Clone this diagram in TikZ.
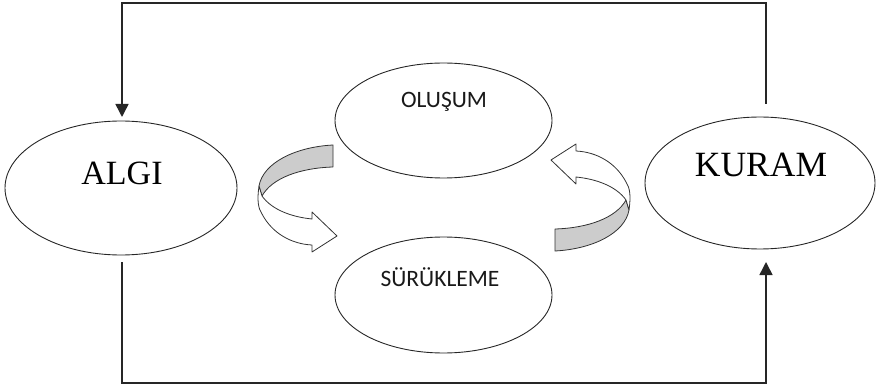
\documentclass[tikz,border=0pt]{standalone}
\usepackage{fontspec}
\setmainfont{Liberation Serif}
\newfontfamily\calfont{Carlito}
\usetikzlibrary{shapes.geometric,arrows.meta}
\begin{document}
\begin{tikzpicture}[x=1pt,y=-1pt,
  oval/.style={draw=black!85,line width=0.9pt,ellipse,inner sep=0pt},
  bigtext/.style={font=\fontsize{34}{34}\selectfont,inner sep=0pt},
  smalltext/.style={font=\calfont\fontsize{23.5}{24}\selectfont,inner sep=0pt,text=black!90},
  conn/.style={draw=black!85,line width=1.5pt},
  tip/.style={-{Triangle[length=13pt,width=13pt]}},
  ribbon/.style={draw=black!80,line width=0.8pt,line join=round}]
\useasboundingbox (0,0) rectangle (877,387);
% ellipses
\node[oval,minimum width=232pt,minimum height=134pt] (algi) at (121,188) {};
\node[oval,minimum width=230pt,minimum height=132pt] (kuram) at (760,183) {};
\node[oval,minimum width=217pt,minimum height=115pt] (olusum) at (443.5,120.5) {};
\node[oval,minimum width=217pt,minimum height=116pt] (surukleme) at (443.5,295) {};
% texts
\node[bigtext] (talgi) at (122,173) {ALGI};
\node[bigtext,font=\fontsize{35.5}{36}\selectfont] (tkuram) at (761,165) {KURAM};
\node[smalltext] (tolusum) at (444,102) {OLUŞUM};
\node[smalltext] (tsurukleme) at (440,277) {SÜRÜKLEME};
% connector anchors
\coordinate (ktop) at (766,104);
\coordinate (ktr) at (766,3);
\coordinate (atl) at (122,3);
\coordinate (aend) at (122,117);
\coordinate (abot) at (122,262);
\coordinate (abl) at (122,383);
\coordinate (kbr) at (766,383);
\coordinate (kend) at (766,262);
\draw[conn,tip] (ktop) -- (ktr) -- (atl) -- (aend);
\draw[conn,tip] (abot) -- (abl) -- (kbr) -- (kend);
% left curved ribbon arrow
\path[ribbon,fill=black!20] (333,145) -- (333,167) .. controls (300,168) and (272,178) .. (262,196)
   -- (259,186) .. controls (263,163) and (295,147) .. (333,145) -- cycle;
\path[ribbon,fill=white] (259,186) .. controls (257,200) and (258,208) .. (262,214)
   .. controls (272,233) and (291,244) .. (312,245) -- (312,252) -- (337,236) -- (312,212) -- (312,219)
   .. controls (292,217) and (272,210) .. (262,196) -- cycle;
% right curved ribbon arrow (rotated copy)
\begin{scope}[rotate around={180:(444,198)}]
\path[ribbon,fill=black!20] (333,145) -- (333,167) .. controls (300,168) and (272,178) .. (262,196)
   -- (259,186) .. controls (263,163) and (295,147) .. (333,145) -- cycle;
\path[ribbon,fill=white] (259,186) .. controls (257,200) and (258,208) .. (262,214)
   .. controls (272,233) and (291,244) .. (312,245) -- (312,252) -- (337,236) -- (312,212) -- (312,219)
   .. controls (292,217) and (272,210) .. (262,196) -- cycle;
\end{scope}
\end{tikzpicture}
\end{document}
